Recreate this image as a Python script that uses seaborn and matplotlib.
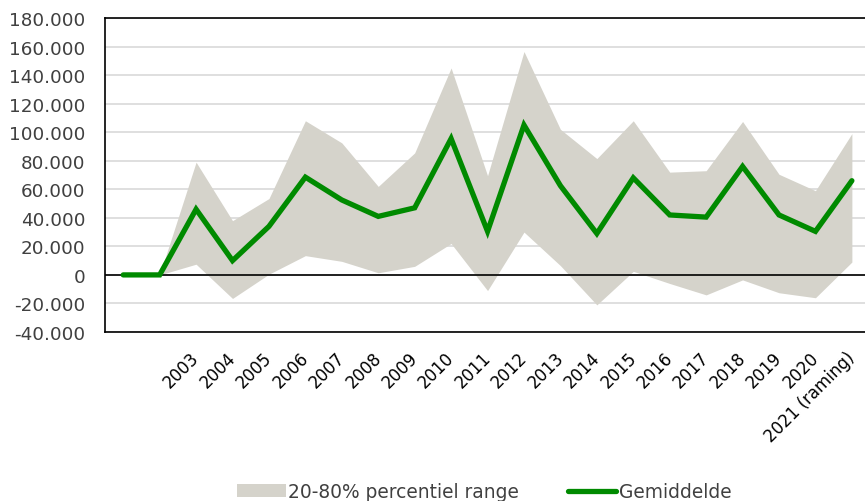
import matplotlib
matplotlib.use("Agg")
import numpy as np
import pandas as pd
import matplotlib.pyplot as plt
import matplotlib.transforms as mtransforms
import seaborn as sns
from matplotlib.patches import Patch
from matplotlib.lines import Line2D
from matplotlib.ticker import FuncFormatter

# Data
labels = ["", ""] + [str(y) for y in range(2003, 2021)] + ["2021 (raming)"]
gemiddelde = [0, 0, 46000, 10000, 34000, 68500, 52500, 41000, 47000, 95500,
              30500, 105000, 62500, 29000, 68000, 42000, 40500, 76000, 42000,
              30500, 66000]
p80 = [np.nan, 0, 79000, 38000, 53500, 108000, 92500, 62000, 85500, 145000,
       69500, 156500, 102000, 81500, 108000, 72000, 73000, 107500, 70500,
       59000, 99000]
p20 = [np.nan, 0, 7500, -16500, 500, 13500, 9500, 1500, 6000, 22000,
       -11000, 30000, 6500, -21000, 2500, -6000, -14000, -3500, -12500,
       -16000, 9000]

df = pd.DataFrame({"idx": range(len(labels)), "label": labels,
                   "gem": gemiddelde, "p20": p20, "p80": p80})

band_color = "#d5d3cb"
line_color = "#008a00"
text_color = "#404040"

sns.set_style("white")
plt.rcParams["font.family"] = ["DejaVu Sans"]

fig = plt.figure(figsize=(8.65, 5.02), dpi=100)
ax = fig.add_axes([105 / 865, 1 - 333 / 502, 1 - 105 / 865, (333 - 19) / 502])

ax.fill_between(df["idx"], df["p20"], df["p80"], color=band_color, lw=0, zorder=1)
sns.lineplot(data=df, x="idx", y="gem", color=line_color, lw=3.8, ax=ax,
             zorder=3, solid_capstyle="round", solid_joinstyle="miter")
ax.axhline(0, color="black", lw=1.2, zorder=2)

ax.set_xlim(-0.5, 20.36)
ax.set_ylim(-40000, 180000)
ax.set_yticks(range(-40000, 180001, 20000))
ax.yaxis.set_major_formatter(FuncFormatter(lambda v, p: f"{int(v):,}".replace(",", ".")))
ax.grid(axis="y", color="#d9d9d9", lw=1.2, zorder=0)
ax.set_axisbelow(True)

ax.set_xticks(df["idx"])
ax.set_xticklabels(df["label"], rotation=45, ha="right", rotation_mode="anchor")
ax.tick_params(axis="x", length=0, pad=10, labelsize=12, labelcolor="black")
ax.tick_params(axis="y", length=0, pad=14, labelsize=13.2, labelcolor=text_color)
ax.set_xlabel("")
ax.set_ylabel("")

# nudge the rotated year labels a little to the left
shift = mtransforms.ScaledTranslation(-6 / 100, -2 / 100, fig.dpi_scale_trans)
for lbl in ax.get_xticklabels():
    lbl.set_transform(lbl.get_transform() + shift)

for s in ["left", "top", "bottom"]:
    ax.spines[s].set_color("black")
    ax.spines[s].set_linewidth(1.2)
ax.spines["right"].set_visible(False)

handles = [Patch(facecolor=band_color, edgecolor="none", label="20-80% percentiel range"),
           Line2D([0], [0], color=line_color, lw=3.8, solid_capstyle="round", label="Gemiddelde")]
fig.legend(handles=handles, loc="center", bbox_to_anchor=(0.56, 0.018), ncol=2,
           frameon=False, fontsize=13.4, handlelength=2.6, handletextpad=0.15,
           columnspacing=2.6, labelcolor=text_color)

fig.savefig("out.png", dpi=100)
